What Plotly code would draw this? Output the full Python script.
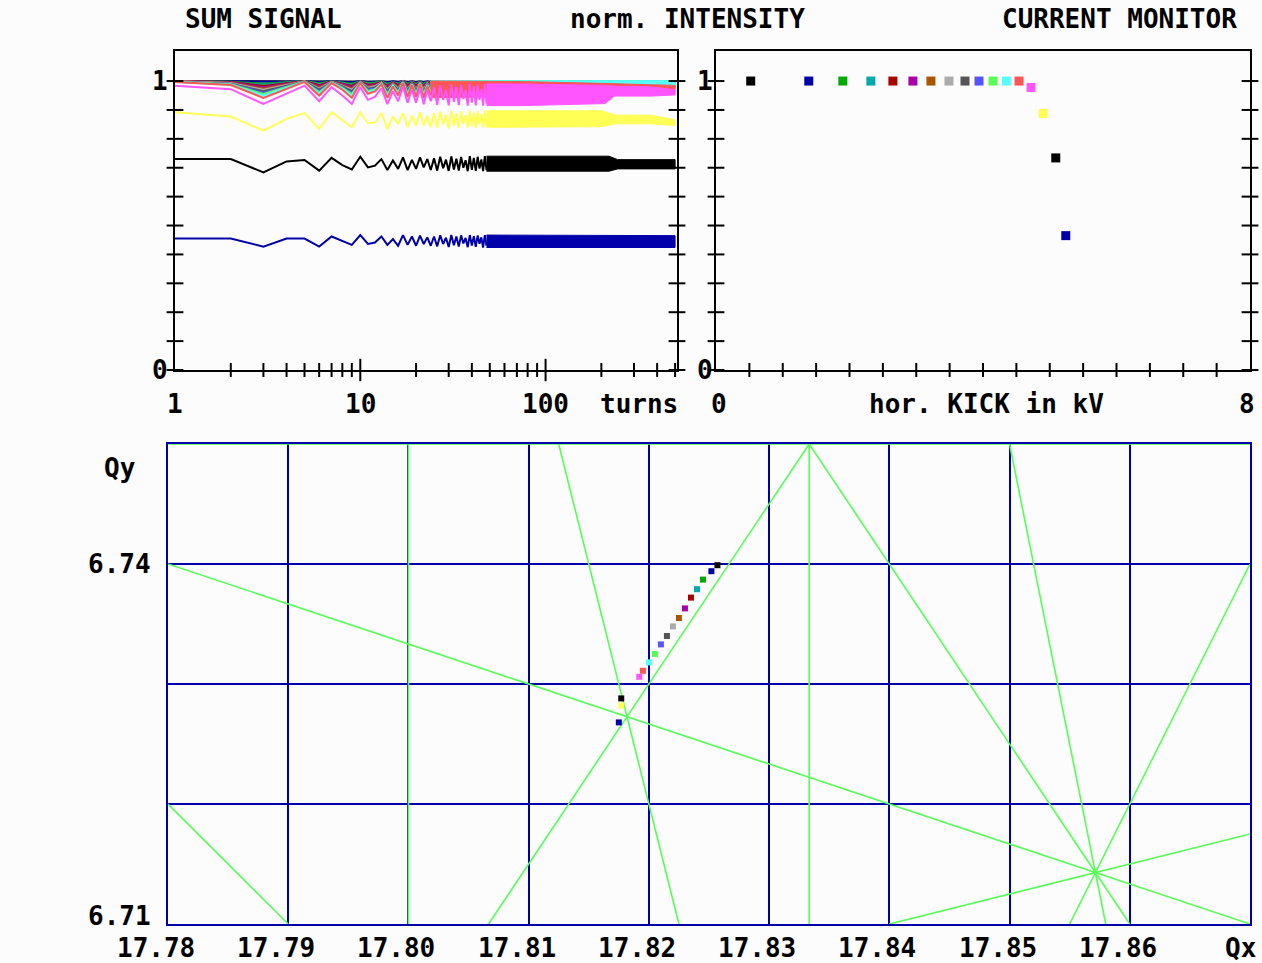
import math
import plotly.graph_objects as go

W, H = 1262, 963

# ---------------------------------------------------------------- data
# EGA palette, one colour per kick (kick order)
KICK_COLORS = ["#000000", "#0000AA", "#00AA00", "#00AAAA", "#AA0000", "#AA00AA",
               "#AA5500", "#AAAAAA", "#555555", "#5555FF", "#55FF55", "#55FFFF",
               "#FF5555", "#FF55FF", "#FFFF55", "#000000", "#0000AA"]

# horizontal kick [kV] and normalised intensity from the current monitor
KICK_KV = [0.52, 1.39, 1.90, 2.32, 2.65, 2.95, 3.22, 3.49, 3.73, 3.94, 4.15,
           4.35, 4.54, 4.72, 4.90, 5.09, 5.24]
NORM_INTENSITY = [1.0, 1.0, 1.0, 1.0, 1.0, 1.0, 1.0, 1.0, 1.0, 1.0, 1.0, 1.0,
                  1.0, 0.978, 0.888, 0.734, 0.465]

# measured tunes for each kick
TUNE_QX = [17.8257, 17.8252, 17.8245, 17.8240, 17.8235, 17.8230, 17.8225,
           17.8220, 17.8215, 17.8210, 17.8205, 17.8200, 17.8195, 17.8192,
           17.8177, 17.8177, 17.8175]
TUNE_QY = [6.7399, 6.7394, 6.7387, 6.7379, 6.7372, 6.7363, 6.7355, 6.7348,
           6.7340, 6.7333, 6.7325, 6.7318, 6.7311, 6.7306, 6.7282, 6.7288,
           6.7268]

# resonance lines a*Qx + b*Qy = c
RES_A = [0, 5, 6, 1, 2, 4, 3, 3, 5, 2, 1]
RES_B = [4, 0, 0, 3, 2, 1, -2, 2, 1, -1, -4]
RES_C = [27, 89, 107, 38, 49, 78, 40, 67, 96, 29, -9]

# sum signal, turn by turn, for the small kicks (kicks 1..13), turns 1..24
TURNS_24 = list(range(1, 25))
SUM_SMALL = [
    [1.000, 1.000, 0.998, 0.999, 1.000, 0.998, 1.000, 0.999, 0.998, 1.000, 0.998, 0.999,
     1.000, 0.998, 0.999, 0.998, 1.000, 0.998, 1.000, 0.998, 1.000, 0.998, 1.000, 0.998],
    [1.000, 0.999, 0.996, 0.998, 1.000, 0.997, 1.000, 0.998, 0.996, 1.000, 0.997, 0.998,
     0.999, 0.996, 0.999, 0.997, 1.000, 0.996, 0.999, 0.996, 0.999, 0.996, 0.999, 0.997],
    [1.000, 0.998, 0.991, 0.996, 1.000, 0.992, 0.999, 0.995, 0.991, 0.999, 0.993, 0.995,
     0.999, 0.991, 0.997, 0.992, 1.000, 0.991, 0.998, 0.991, 0.999, 0.991, 0.998, 0.992],
    [1.000, 0.997, 0.987, 0.994, 1.000, 0.989, 0.999, 0.993, 0.987, 0.999, 0.990, 0.992,
     0.998, 0.987, 0.996, 0.989, 0.999, 0.988, 0.997, 0.988, 0.998, 0.987, 0.997, 0.989],
    [1.000, 0.997, 0.983, 0.992, 1.000, 0.986, 0.999, 0.991, 0.983, 0.999, 0.987, 0.990,
     0.997, 0.983, 0.995, 0.986, 0.999, 0.984, 0.997, 0.984, 0.997, 0.983, 0.996, 0.986],
    [1.000, 0.996, 0.979, 0.991, 1.000, 0.982, 0.998, 0.989, 0.979, 0.998, 0.984, 0.987,
     0.997, 0.979, 0.994, 0.982, 0.999, 0.980, 0.996, 0.980, 0.997, 0.979, 0.995, 0.982],
    [0.999, 0.994, 0.974, 0.988, 0.999, 0.978, 0.997, 0.986, 0.974, 0.997, 0.980, 0.984,
     0.995, 0.974, 0.992, 0.978, 0.998, 0.975, 0.994, 0.975, 0.995, 0.974, 0.993, 0.978],
    [0.999, 0.993, 0.970, 0.986, 0.999, 0.974, 0.997, 0.984, 0.970, 0.997, 0.977, 0.982,
     0.995, 0.970, 0.990, 0.974, 0.998, 0.971, 0.993, 0.971, 0.995, 0.970, 0.992, 0.974],
    [0.998, 0.991, 0.965, 0.983, 0.998, 0.970, 0.995, 0.981, 0.965, 0.995, 0.973, 0.978,
     0.993, 0.965, 0.988, 0.970, 0.996, 0.967, 0.991, 0.967, 0.993, 0.965, 0.990, 0.970],
    [0.998, 0.990, 0.960, 0.981, 0.998, 0.966, 0.995, 0.979, 0.960, 0.995, 0.970, 0.975,
     0.992, 0.960, 0.987, 0.966, 0.996, 0.962, 0.990, 0.962, 0.992, 0.960, 0.989, 0.966],
    [0.998, 0.989, 0.955, 0.979, 0.998, 0.961, 0.995, 0.976, 0.955, 0.995, 0.966, 0.972,
     0.992, 0.955, 0.985, 0.961, 0.996, 0.957, 0.989, 0.957, 0.992, 0.955, 0.987, 0.961],
    [0.997, 0.987, 0.949, 0.975, 0.997, 0.956, 0.993, 0.973, 0.949, 0.993, 0.961, 0.968,
     0.990, 0.949, 0.983, 0.956, 0.995, 0.951, 0.987, 0.951, 0.990, 0.949, 0.985, 0.956],
    [0.997, 0.986, 0.942, 0.972, 0.997, 0.950, 0.993, 0.970, 0.942, 0.993, 0.956, 0.964,
     0.989, 0.942, 0.981, 0.950, 0.994, 0.945, 0.986, 0.945, 0.989, 0.942, 0.983, 0.950],
]
# envelope of the fast oscillation after turn 24 (kicks 1..13)
BAND_TURNS_SMALL = [24, 80, 200, 500]
BAND_UPPER_SMALL = [[1.001, 1.001, 1.001, 1.001]] * 12 + [[1.000, 0.998, 0.992, 0.985]]
BAND_LOWER_SMALL = [
    [0.998, 0.998, 0.998, 0.998],
    [0.996, 0.996, 0.997, 0.997],
    [0.991, 0.991, 0.993, 0.995],
    [0.987, 0.987, 0.990, 0.993],
    [0.983, 0.983, 0.988, 0.991],
    [0.979, 0.979, 0.985, 0.989],
    [0.974, 0.975, 0.982, 0.987],
    [0.970, 0.971, 0.979, 0.985],
    [0.965, 0.967, 0.976, 0.982],
    [0.960, 0.962, 0.973, 0.980],
    [0.955, 0.958, 0.970, 0.977],
    [0.949, 0.953, 0.966, 0.974],
    [0.942, 0.948, 0.958, 0.962],
]

# sum signal for the large kicks (kicks 14..17), turns 1..48
TURNS_48 = list(range(1, 49))
SUM_K14 = [0.984, 0.972, 0.921, 0.956, 0.984, 0.930, 0.979, 0.950, 0.921, 0.979, 0.935, 0.945,
           0.975, 0.920, 0.965, 0.930, 0.980, 0.925, 0.970, 0.925, 0.975, 0.920, 0.968, 0.930,
           0.978, 0.918, 0.986, 0.935, 0.970, 0.916, 0.988, 0.928, 0.980, 0.917, 0.987, 0.938,
           0.968, 0.915, 0.990, 0.925, 0.982, 0.916, 0.988, 0.935, 0.972, 0.915, 0.990, 0.922]
SUM_K15 = [0.892, 0.877, 0.828, 0.869, 0.889, 0.834, 0.892, 0.863, 0.840, 0.892, 0.854, 0.857,
           0.889, 0.834, 0.877, 0.852, 0.889, 0.840, 0.880, 0.846, 0.892, 0.846, 0.880, 0.840,
           0.889, 0.838, 0.894, 0.850, 0.884, 0.836, 0.896, 0.845, 0.889, 0.838, 0.895, 0.852,
           0.882, 0.839, 0.897, 0.843, 0.891, 0.838, 0.896, 0.850, 0.885, 0.840, 0.897, 0.842]
SUM_K16 = [0.730, 0.730, 0.684, 0.722, 0.727, 0.690, 0.734, 0.709, 0.694, 0.738, 0.701, 0.707,
           0.730, 0.692, 0.725, 0.696, 0.736, 0.692, 0.727, 0.696, 0.736, 0.701, 0.730, 0.692,
           0.733, 0.690, 0.738, 0.698, 0.728, 0.689, 0.739, 0.694, 0.731, 0.690, 0.737, 0.700,
           0.726, 0.688, 0.740, 0.693, 0.734, 0.689, 0.738, 0.697, 0.729, 0.688, 0.740, 0.692]
SUM_K17 = [0.455, 0.455, 0.427, 0.455, 0.455, 0.427, 0.462, 0.447, 0.433, 0.467, 0.436, 0.441,
           0.462, 0.433, 0.453, 0.430, 0.467, 0.433, 0.462, 0.430, 0.465, 0.436, 0.459, 0.430,
           0.462, 0.428, 0.466, 0.436, 0.458, 0.426, 0.467, 0.432, 0.462, 0.427, 0.466, 0.438,
           0.457, 0.425, 0.467, 0.431, 0.463, 0.426, 0.466, 0.437, 0.459, 0.424, 0.467, 0.430]

# envelopes after turn 48 (kicks 14..17)
BAND_TURNS_K14 = [48, 75, 210, 235, 370, 500]
BAND_UPPER_K14 = [0.990, 0.990, 0.985, 0.982, 0.980, 0.970]
BAND_LOWER_K14 = [0.915, 0.915, 0.922, 0.948, 0.948, 0.952]
BAND_TURNS_K15 = [48, 200, 240, 370, 420, 500]
BAND_UPPER_K15 = [0.897, 0.897, 0.882, 0.882, 0.875, 0.866]
BAND_LOWER_K15 = [0.840, 0.842, 0.852, 0.852, 0.850, 0.846]
BAND_TURNS_K16 = [48, 220, 245, 500]
BAND_UPPER_K16 = [0.740, 0.740, 0.728, 0.728]
BAND_LOWER_K16 = [0.688, 0.688, 0.696, 0.696]
BAND_TURNS_K17 = [48, 500]
BAND_UPPER_K17 = [0.467, 0.465]
BAND_LOWER_K17 = [0.424, 0.424]

# axis ticks and labels
TURN_LABELS = [1, 10, 100]
TURN_MAJOR = [10, 100]
TURN_MINOR = [2, 3, 4, 5, 6, 7, 8, 9, 20, 30, 40, 50, 60, 70, 80, 90, 200, 300, 400, 500]
TURN_MAX = 512
KV_LABELS = [0, 8]
KV_TICKS = [0.5, 1, 1.5, 2, 2.5, 3, 3.5, 4, 4.5, 5, 5.5, 6, 6.5, 7, 7.5]
INT_TICKS = [0.0, 0.1, 0.2, 0.3, 0.4, 0.5, 0.6, 0.7, 0.8, 0.9, 1.0]
INT_LABELS = [0, 1]
QX_LABELS = [17.78, 17.79, 17.80, 17.81, 17.82, 17.83, 17.84, 17.85, 17.86]
QY_LABELS = [6.74, 6.71]
QX_RANGE = [17.78, 17.87]
QY_RANGE = [6.71, 6.75]
INT_TOP = 1.104

# ---------------------------------------------------------------- helpers
FONT = dict(family="DejaVu Sans Mono", size=26, color="#000000", weight="bold")
BG = "#fcfcfc"


def px(x):
    return x / W


def py(y):
    return 1 - y / H


fig = go.Figure()


def band(xref, yref, turns, upper, lower, color):
    fig.add_trace(go.Scatter(
        x=turns + turns[::-1], y=upper + lower[::-1], xaxis=xref, yaxis=yref,
        mode="lines", fill="toself", fillcolor=color,
        line=dict(color=color, width=1), hoverinfo="skip", showlegend=False))


def curve(xref, yref, turns, values, color):
    fig.add_trace(go.Scatter(
        x=turns, y=values, xaxis=xref, yaxis=yref, mode="lines",
        line=dict(color=color, width=2), hoverinfo="skip", showlegend=False))


def tick_marks(xref, yref, xs, ys, symbol, size):
    fig.add_trace(go.Scatter(
        x=xs, y=ys, xaxis=xref, yaxis=yref, mode="markers", cliponaxis=False,
        marker=dict(symbol=symbol, size=size, color="#000000",
                    line=dict(color="#000000", width=2)),
        hoverinfo="skip", showlegend=False))


# ---------------------------------------------------------------- sum signal
for k in range(13):
    band("x", "y", BAND_TURNS_SMALL, BAND_UPPER_SMALL[k], BAND_LOWER_SMALL[k], KICK_COLORS[k])
    curve("x", "y", TURNS_24, SUM_SMALL[k], KICK_COLORS[k])

big = [(SUM_K14, BAND_TURNS_K14, BAND_UPPER_K14, BAND_LOWER_K14),
       (SUM_K15, BAND_TURNS_K15, BAND_UPPER_K15, BAND_LOWER_K15),
       (SUM_K16, BAND_TURNS_K16, BAND_UPPER_K16, BAND_LOWER_K16),
       (SUM_K17, BAND_TURNS_K17, BAND_UPPER_K17, BAND_LOWER_K17)]
for i, (vals, bt, bu, bl) in enumerate(big):
    c = KICK_COLORS[13 + i]
    band("x", "y", bt, bu, bl, c)
    curve("x", "y", TURNS_48, vals, c)

tick_marks("x", "y", TURN_MINOR, [0] * len(TURN_MINOR), "line-ns-open", 10)
tick_marks("x", "y", TURN_MAJOR, [0] * len(TURN_MAJOR), "line-ns-open", 16)
tick_marks("x", "y", [1] * len(INT_TICKS) + [TURN_MAX] * len(INT_TICKS),
           INT_TICKS + INT_TICKS, "line-ew-open", 12)

# ---------------------------------------------------------------- current monitor
fig.add_trace(go.Scatter(
    x=KICK_KV, y=NORM_INTENSITY, xaxis="x2", yaxis="y2", mode="markers",
    marker=dict(symbol="square", size=9, color=KICK_COLORS, line=dict(width=0)),
    hoverinfo="skip", showlegend=False))
tick_marks("x2", "y2", KV_TICKS, [0] * len(KV_TICKS), "line-ns-open", 10)
tick_marks("x2", "y2", [0] * len(INT_TICKS) + [8] * len(INT_TICKS),
           INT_TICKS + INT_TICKS, "line-ew-open", 12)

# ---------------------------------------------------------------- tune diagram
for a, b, c in zip(RES_A, RES_B, RES_C):
    pts = []
    for qx in QX_RANGE:
        if b != 0:
            qy = (c - a * qx) / b
            if QY_RANGE[0] - 1e-9 <= qy <= QY_RANGE[1] + 1e-9:
                pts.append((qx, qy))
    for qy in QY_RANGE:
        if a != 0:
            qx = (c - b * qy) / a
            if QX_RANGE[0] - 1e-9 <= qx <= QX_RANGE[1] + 1e-9:
                pts.append((qx, qy))
    pts = sorted(set((round(p[0], 9), round(p[1], 9)) for p in pts))
    if len(pts) < 2:
        continue
    p0, p1 = pts[0], pts[-1]
    fig.add_trace(go.Scatter(
        x=[p0[0], p1[0]], y=[p0[1], p1[1]], xaxis="x3", yaxis="y3", mode="lines",
        cliponaxis=False, line=dict(color="#55FF55", width=1.6),
        hoverinfo="skip", showlegend=False))

fig.add_trace(go.Scatter(
    x=TUNE_QX, y=TUNE_QY, xaxis="x3", yaxis="y3", mode="markers",
    marker=dict(symbol="square", size=6, color=KICK_COLORS, line=dict(width=0)),
    hoverinfo="skip", showlegend=False))

# ---------------------------------------------------------------- axes
frame = dict(showline=True, mirror=True, linecolor="#000000", linewidth=2,
             showgrid=False, zeroline=False, ticks="", showticklabels=False,
             fixedrange=True)

fig.update_layout(
    width=W, height=H, margin=dict(l=0, r=0, t=0, b=0),
    paper_bgcolor=BG, plot_bgcolor=BG, showlegend=False,
    xaxis=dict(frame, type="log", range=[0, math.log10(TURN_MAX)],
               domain=[px(175), px(677)], anchor="y"),
    yaxis=dict(frame, range=[0, INT_TOP], domain=[py(370), py(51)], anchor="x"),
    xaxis2=dict(frame, range=[0, 8], domain=[px(716), px(1250)], anchor="y2"),
    yaxis2=dict(frame, range=[0, INT_TOP], domain=[py(370), py(51)], anchor="x2"),
    xaxis3=dict(range=QX_RANGE, domain=[px(168), px(1250)], anchor="y3",
                showline=True, mirror=True, linecolor="#0000AA", linewidth=2,
                showgrid=True, gridcolor="#0000AA", gridwidth=2,
                tick0=QX_RANGE[0], dtick=0.01, zeroline=False, ticks="",
                showticklabels=False, layer="below traces", fixedrange=True),
    yaxis3=dict(range=QY_RANGE, domain=[py(924), py(444)], anchor="x3",
                showline=True, mirror=True, linecolor="#0000AA", linewidth=2,
                showgrid=True, gridcolor="#0000AA", gridwidth=2,
                tick0=QY_RANGE[0], dtick=0.01, zeroline=False, ticks="",
                showticklabels=False, layer="below traces", fixedrange=True),
)

# ---------------------------------------------------------------- text
ann = []


def text(t, x, y, xref="paper", yref="paper", xanchor="center", xshift=0, yshift=0):
    ann.append(dict(text=t, x=x, y=y, xref=xref, yref=yref, xanchor=xanchor,
                    yanchor="middle", xshift=xshift, yshift=yshift,
                    showarrow=False, font=FONT))


text("SUM SIGNAL", px(183), py(19), xanchor="left")
text("norm. INTENSITY", px(568), py(19), xanchor="left")
text("CURRENT MONITOR", px(1000), py(19), xanchor="left")

for v in INT_LABELS:
    text(str(v), px(160), v, yref="y")
    text(str(v), px(705), v, yref="y2")
for t in TURN_LABELS:
    text(str(t), math.log10(t), py(404), xref="x")
text("turns", px(639), py(404))
for v in KV_LABELS:
    text(str(v), v, py(404), xref="x2", xshift=3 if v == 0 else -3)
text("hor. KICK in kV", px(986), py(404))

text("Qy", px(119), QY_RANGE[1], yref="y3", yshift=-24)
for q in QY_LABELS:
    text(f"{q:.2f}", px(119), q, yref="y3", yshift=8 if q == QY_RANGE[0] else 0)
for q in QX_LABELS:
    text(f"{q:.2f}", q, py(948), xref="x3", xshift=-12)
text("Qx", px(1240), py(948))

fig.update_layout(annotations=ann)
fig.write_html("out.html")
